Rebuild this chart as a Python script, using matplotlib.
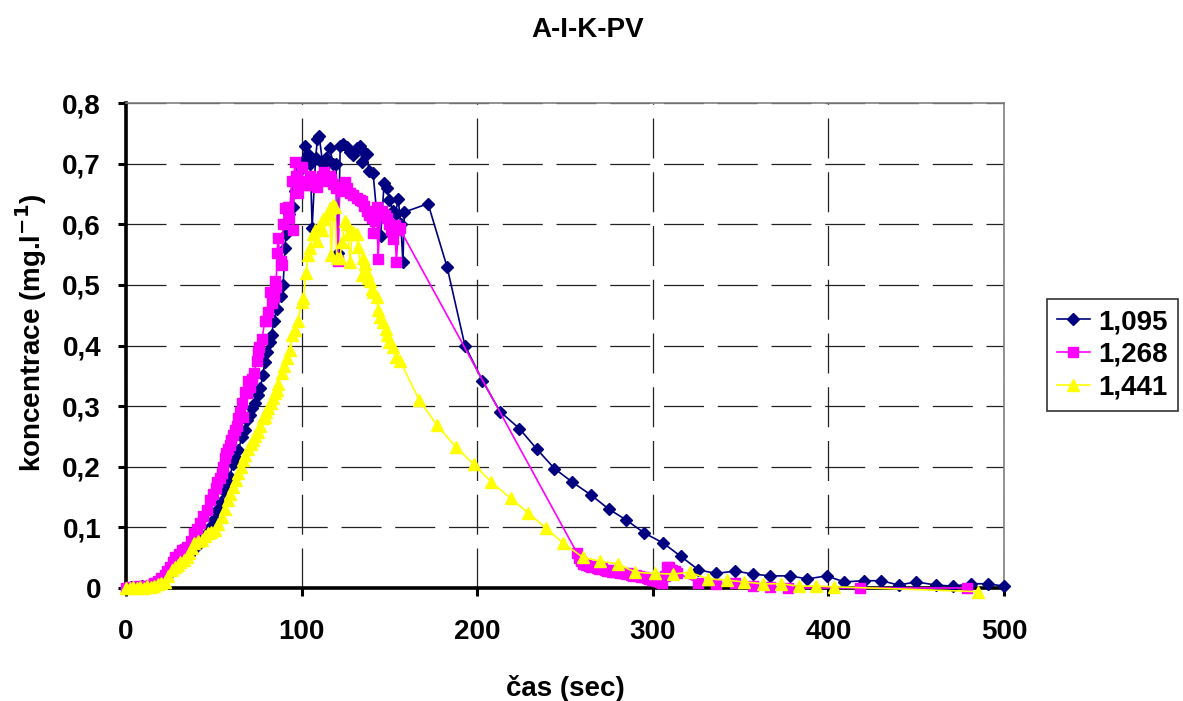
"""A-I-K-PV: průnikové křivky koncentrace pro tři průtoky."""

import matplotlib
matplotlib.use("Agg")
import matplotlib.pyplot as plt
from matplotlib.ticker import FuncFormatter, MultipleLocator

plt.rcParams["font.family"] = ["Liberation Sans", "DejaVu Sans"]
plt.rcParams["font.weight"] = "bold"

# --- 1,095 (modré kosočtverce) ---
T_1095 = [0, 3, 6, 9, 12, 15, 18, 21, 24, 27, 30, 33, 36, 39, 42, 45, 47.8, 50,
          51.8, 54, 56, 58, 59, 61, 62.5, 64, 66, 67.5, 69, 70.5, 72, 73.5, 75,
          76.5, 78, 79, 80.5, 82, 83, 84, 86, 88, 89.5, 90.5, 91, 91.5, 93, 95,
          96, 97, 99, 101, 102, 103.7, 105, 106, 108, 109, 110, 112, 114, 116,
          118, 119.6, 120.7, 122, 123.5, 125.8, 127.6, 129.5, 131.5, 133, 134.6,
          136, 137, 138.4, 140.7, 142.9, 145, 147, 148.6, 150, 152, 153.5, 155,
          156.5, 157.7, 158.5, 172, 182.8, 193, 203, 213, 224, 234, 244, 254,
          265, 275, 285, 295, 306, 316, 326, 336, 347, 357, 367, 378, 388, 399,
          409, 420, 430, 440, 450, 461, 471, 481, 491, 500]
C_1095 = [0.0, 0.002, 0.0, 0.003, 0.002, 0.005, 0.008, 0.015, 0.022, 0.03, 0.038,
          0.045, 0.055, 0.065, 0.075, 0.088, 0.1, 0.113, 0.128, 0.142, 0.16, 0.172,
          0.183, 0.205, 0.215, 0.227, 0.249, 0.26, 0.277, 0.285, 0.297, 0.305,
          0.318, 0.33, 0.352, 0.372, 0.39, 0.405, 0.417, 0.44, 0.46, 0.482, 0.5,
          0.56, 0.584, 0.605, 0.617, 0.628, 0.655, 0.667, 0.69, 0.705, 0.729,
          0.716, 0.7, 0.594, 0.71, 0.74, 0.746, 0.7, 0.71, 0.726, 0.7, 0.7, 0.553,
          0.729, 0.732, 0.728, 0.72, 0.715, 0.726, 0.729, 0.702, 0.718, 0.716,
          0.688, 0.685, 0.614, 0.58, 0.668, 0.66, 0.64, 0.622, 0.617, 0.642, 0.6,
          0.537, 0.62, 0.634, 0.53, 0.4, 0.342, 0.291, 0.263, 0.229, 0.197, 0.175,
          0.153, 0.13, 0.112, 0.091, 0.074, 0.052, 0.03, 0.024, 0.028, 0.023,
          0.02, 0.02, 0.015, 0.02, 0.01, 0.012, 0.012, 0.005, 0.01, 0.005, 0.003,
          0.007, 0.007, 0.003]

# --- 1,268 (růžové čtverce) ---
T_1268 = [0, 2, 4, 6, 8, 10, 12, 14, 16, 18, 20, 22, 23.5, 25, 26.5, 28, 30, 32,
          33.5, 35, 37, 39, 40.5, 42, 44, 46, 47.8, 49.5, 51, 52, 53.5, 54.5,
          55.5, 56.4, 57, 58, 59, 60, 61, 62, 63, 64, 65, 66, 66.6, 67.8, 68.7,
          69.5, 70.5, 72, 73, 74.5, 75.3, 76, 77.5, 79, 80, 81, 82, 83, 84, 84.8,
          85.5, 86, 86.6, 88, 88.6, 89.5, 90.5, 92, 93, 94.3, 95, 96, 97, 97.9,
          99, 100, 100.9, 102, 103.6, 104.5, 105.7, 107, 108.5, 110, 111.5, 113,
          114.5, 116, 117, 118, 119.5, 120.7, 121.8, 123, 124.7, 126, 127.6,
          129.5, 131.5, 133, 134.4, 135.5, 137, 138.5, 140, 140.7, 142, 142.9,
          143.5, 145, 146, 147.5, 148.5, 150, 151, 152, 153, 154, 155, 155.8,
          257, 258, 259, 260.5, 262, 263.5, 265, 266.5, 268, 269.5, 271, 272.5,
          274, 275.5, 277, 278.5, 280, 281.5, 283, 284.5, 286, 287.5, 289, 290.5,
          292, 293.5, 295, 296.5, 298, 299.5, 301, 302.5, 304, 305.5, 307, 308,
          309.5, 311, 312.5, 314, 326, 336, 347, 357, 367, 377, 418, 479]
C_1268 = [0.0, 0.002, 0.0, 0.003, 0.002, 0.004, 0.003, 0.005, 0.008, 0.012, 0.016,
          0.021, 0.028, 0.035, 0.043, 0.051, 0.056, 0.062, 0.065, 0.068, 0.078,
          0.09, 0.098, 0.107, 0.118, 0.128, 0.145, 0.155, 0.165, 0.175, 0.182,
          0.189, 0.2, 0.214, 0.222, 0.23, 0.236, 0.244, 0.252, 0.26, 0.268, 0.28,
          0.29, 0.305, 0.282, 0.323, 0.321, 0.342, 0.331, 0.345, 0.355, 0.375,
          0.389, 0.397, 0.41, 0.441, 0.44, 0.455, 0.488, 0.47, 0.48, 0.507, 0.496,
          0.552, 0.577, 0.54, 0.532, 0.6, 0.626, 0.628, 0.61, 0.672, 0.59, 0.702,
          0.68, 0.652, 0.67, 0.694, 0.672, 0.665, 0.664, 0.68, 0.667, 0.67, 0.661,
          0.675, 0.68, 0.686, 0.672, 0.68, 0.675, 0.667, 0.66, 0.54, 0.661, 0.655,
          0.669, 0.66, 0.652, 0.648, 0.644, 0.64, 0.639, 0.63, 0.622, 0.615, 0.61,
          0.586, 0.605, 0.628, 0.543, 0.62, 0.622, 0.615, 0.61, 0.6, 0.59, 0.576,
          0.598, 0.537, 0.59, 0.593,
          0.057, 0.05, 0.045, 0.04, 0.038, 0.036, 0.034, 0.036, 0.033, 0.031,
          0.033, 0.03, 0.028, 0.03, 0.027, 0.026, 0.028, 0.025, 0.024, 0.023,
          0.025, 0.022, 0.02, 0.021, 0.019, 0.018, 0.018, 0.017, 0.015, 0.014,
          0.013, 0.012, 0.01, 0.009, 0.02, 0.035, 0.034, 0.03, 0.028, 0.025,
          0.008, 0.007, 0.008, 0.003, 0.002, 0.0, 0.0, 0.0]

# --- 1,441 (žluté trojúhelníky) ---
T_1441 = [0, 2, 4, 6, 8, 10, 12, 14, 16, 18, 20, 22, 24, 26, 28, 29.6, 31, 33,
          34.5, 36, 37.5, 39, 41, 43, 45, 46.7, 48.5, 50.6, 52.5, 54.6, 56.5, 58,
          59.5, 61, 62.5, 64, 65.5, 66.7, 68, 69.5, 71, 72.3, 73.5, 75, 76.5, 78,
          79, 80, 81, 82.5, 83.7, 85, 86, 86.6, 88.6, 90, 91.5, 93.4, 94.3, 96,
          98, 100, 101, 102.5, 103.7, 105, 106.5, 107.6, 108.5, 110.5, 111.6, 112,
          113, 115, 116, 117, 118, 119, 120, 121.8, 123, 124.7, 125.8, 126.4,
          127.6, 128.7, 129.5, 131.5, 132, 134.4, 135, 136, 137, 138, 139, 140,
          140.7, 142.9, 143.5, 144.6, 146.4, 148, 148.6, 150, 152, 154, 156, 167,
          177, 188, 198, 208, 219, 229, 239, 249, 260, 270, 280, 290, 301, 311.5,
          321, 331.5, 342, 352, 362.7, 373, 383, 393, 403, 485]
C_1441 = [0.0, 0.0, 0.002, 0.0, 0.002, 0.0, 0.003, 0.002, 0.004, 0.006, 0.008,
          0.01, 0.02, 0.03, 0.035, 0.038, 0.043, 0.047, 0.051, 0.058, 0.066, 0.074,
          0.077, 0.079, 0.085, 0.09, 0.093, 0.095, 0.105, 0.117, 0.13, 0.145,
          0.155, 0.167, 0.178, 0.189, 0.2, 0.211, 0.22, 0.23, 0.237, 0.244, 0.25,
          0.257, 0.268, 0.28, 0.282, 0.29, 0.297, 0.305, 0.314, 0.322, 0.326,
          0.336, 0.354, 0.367, 0.38, 0.392, 0.417, 0.425, 0.441, 0.471, 0.478,
          0.52, 0.55, 0.56, 0.584, 0.59, 0.573, 0.598, 0.59, 0.609, 0.609, 0.617,
          0.626, 0.549, 0.631, 0.628, 0.545, 0.545, 0.57, 0.606, 0.6, 0.584, 0.537,
          0.584, 0.587, 0.584, 0.563, 0.516, 0.545, 0.535, 0.52, 0.512, 0.506,
          0.494, 0.488, 0.48, 0.458, 0.447, 0.438, 0.428, 0.417, 0.405, 0.397,
          0.381, 0.375, 0.31, 0.269, 0.232, 0.204, 0.175, 0.148, 0.124, 0.099,
          0.074, 0.051, 0.044, 0.04, 0.026, 0.024, 0.023, 0.026, 0.015, 0.013,
          0.01, 0.007, 0.007, 0.003, 0.003, 0.002, -0.006]

SERIES = [
    ("1,095", T_1095, C_1095, "#000080", "D", 6.5),
    ("1,268", T_1268, C_1268, "#FF00FF", "s", 7.0),
    ("1,441", T_1441, C_1441, "#FFFF00", "^", 8.0),
]

X_TICKS = [0, 100, 200, 300, 400, 500]
FS = 20


def comma(v, _pos):
    s = f"{v:.1f}".rstrip("0").rstrip(".")
    return s.replace(".", ",")


fig = plt.figure(figsize=(11.83, 7.01), dpi=100)
ax = fig.add_axes([126 / 1183, 113 / 701, 878 / 1183, 485 / 701])

for i, (name, t, c, col, mk, ms) in enumerate(SERIES):
    ax.plot(t, c, color=col, lw=1.2, marker=mk, markersize=ms,
            markerfacecolor=col, markeredgecolor=col, label=name,
            clip_on=False, zorder=3 + i)

ax.set_xlim(0, 500)
ax.set_ylim(0, 0.8)
ax.set_xticks(X_TICKS)
ax.yaxis.set_major_locator(MultipleLocator(0.1))
ax.yaxis.set_major_formatter(FuncFormatter(comma))

# čárkovaná mřížka jako v Excelu
ax.grid(True, color="#222222", lw=0.9, linestyle=(0, (32, 11)))
ax.set_axisbelow(True)

for side in ("top", "right"):
    ax.spines[side].set_color("#808080")
    ax.spines[side].set_linewidth(1.2)
for side in ("left", "bottom"):
    ax.spines[side].set_color("black")
    ax.spines[side].set_linewidth(2.6)

ax.tick_params(axis="both", direction="out", length=6, width=2.2,
               labelsize=FS)
ax.tick_params(axis="y", pad=12)
ax.tick_params(axis="x", pad=16)
for lab in ax.get_xticklabels() + ax.get_yticklabels():
    lab.set_fontweight("bold")

ax.set_xlabel("čas (sec)", fontsize=FS, fontweight="bold", labelpad=22)
ax.set_ylabel("koncentrace (mg.l$^{\\mathbf{-1}}$)", fontsize=FS,
              fontweight="bold")
ax.yaxis.set_label_coords(-0.088, 0.526)

fig.suptitle("A-I-K-PV", x=0.497, y=0.976, fontsize=FS, fontweight="bold")

leg = ax.legend(loc="center left", bbox_to_anchor=(1047 / 1183, 346 / 701),
                bbox_transform=fig.transFigure, fontsize=FS, frameon=True,
                fancybox=False, edgecolor="black", borderpad=0.35,
                handlelength=1.2, handletextpad=0.3, labelspacing=0.25,
                borderaxespad=0)
leg.get_frame().set_linewidth(1.2)
for txt in leg.get_texts():
    txt.set_fontweight("bold")

fig.savefig("out.png", dpi=100, facecolor="white")
